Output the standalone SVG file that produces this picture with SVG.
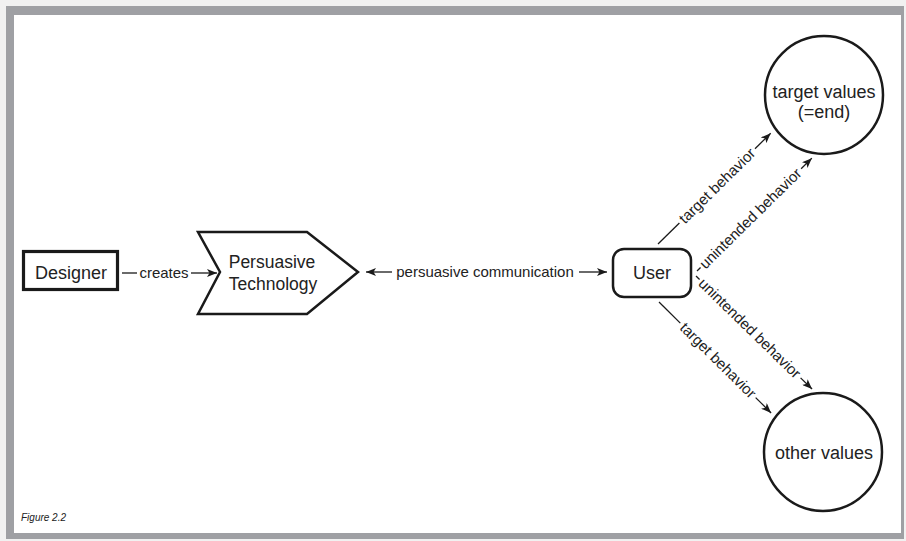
<svg xmlns="http://www.w3.org/2000/svg" width="906" height="541" viewBox="0 0 906 541">
<defs>
<marker id="arr" markerUnits="userSpaceOnUse" markerWidth="10" markerHeight="8" refX="10" refY="4" orient="auto-start-reverse">
<path d="M0,0 L10,4 L0,8 L2.5,4 Z" fill="#1a1a1a"/>
</marker>
<style>
.ln{stroke:#1a1a1a;stroke-width:1.3;fill:none}
.sh{stroke:#1a1a1a;stroke-width:2.5;fill:#fff}
.t{font-family:"Liberation Sans",Arial,sans-serif;fill:#222}
.big{font-size:18px;text-anchor:middle}
.lab{font-size:15px}
</style>
</defs>
<rect x="0" y="0" width="906" height="541" fill="#f1f1f1"/>
<rect x="6" y="6" width="898" height="533" fill="#9fa0a4"/>
<rect x="14" y="15" width="887" height="518" fill="#ffffff"/>

<g id="connectors">
<g id="c-creates">
<line class="ln" x1="122" y1="273" x2="137" y2="273"/>
<text class="t lab" x="164" y="278" text-anchor="middle">creates</text>
<line class="ln" x1="191" y1="273" x2="217" y2="273" marker-end="url(#arr)"/>
</g>
<g id="c-comm">
<line class="ln" x1="366" y1="272" x2="392" y2="272" marker-start="url(#arr)"/>
<text class="t lab" x="485" y="277" text-anchor="middle">persuasive communication</text>
<line class="ln" x1="579" y1="272" x2="607" y2="272" marker-end="url(#arr)"/>
</g>
<g id="c-target-up" transform="translate(658,244) rotate(-44.5)">
<line class="ln" x1="0" y1="0" x2="30" y2="0"/>
<text class="t lab" x="33" y="5">target behavior</text>
<line class="ln" x1="136" y1="0" x2="158" y2="0" marker-end="url(#arr)"/>
</g>
<g id="c-unint-up" transform="translate(697,271) rotate(-44.5)">
<line class="ln" x1="0" y1="0" x2="5" y2="0"/>
<text class="t lab" x="7" y="5">unintended behavior</text>
<line class="ln" x1="146" y1="0" x2="161" y2="0" marker-end="url(#arr)"/>
</g>
<g id="c-unint-down" transform="translate(696,276) rotate(44.25)">
<line class="ln" x1="0" y1="0" x2="5" y2="0"/>
<text class="t lab" x="7" y="5">unintended behavior</text>
<line class="ln" x1="146" y1="0" x2="162" y2="0" marker-end="url(#arr)"/>
</g>
<g id="c-target-down" transform="translate(659,302) rotate(44.7)">
<line class="ln" x1="0" y1="0" x2="30" y2="0"/>
<text class="t lab" x="33" y="5">target behavior</text>
<line class="ln" x1="136" y1="0" x2="157.7" y2="0" marker-end="url(#arr)"/>
</g>
</g>

<g id="designer">
<rect x="23.5" y="251.5" width="94" height="38" fill="#fff" stroke="#1a1a1a" stroke-width="3.2"/>
<text class="t big" x="71" y="279">Designer</text>
</g>
<g id="persuasive-technology">
<polygon class="sh" points="198,232 307,232 358,272 307,314 198,314 220,272"/>
<text class="t" x="272" y="268" font-size="17.5" text-anchor="middle">Persuasive</text>
<text class="t" x="273" y="290" font-size="17.5" text-anchor="middle">Technology</text>
</g>
<g id="user">
<rect class="sh" x="613" y="249" width="78" height="48" rx="11"/>
<text class="t big" x="652" y="279">User</text>
</g>
<g id="target-values">
<circle class="sh" cx="824" cy="95" r="59"/>
<text class="t big" x="824" y="98">target values</text>
<text class="t big" x="824" y="118">(=end)</text>
</g>
<g id="other-values">
<circle class="sh" cx="823" cy="452" r="59"/>
<text class="t big" x="824" y="459">other values</text>
</g>
<text class="t" x="21" y="521" font-size="10" font-style="italic">Figure 2.2</text>
</svg>
